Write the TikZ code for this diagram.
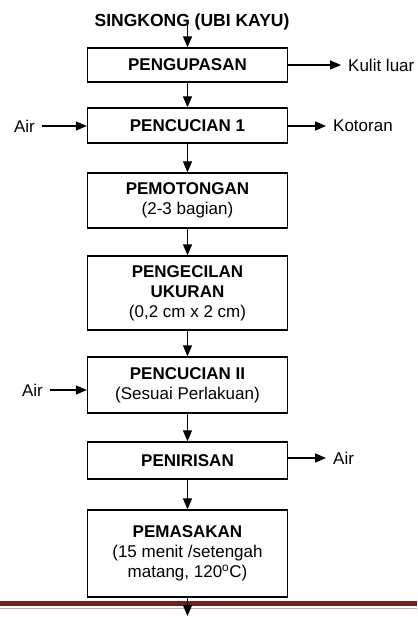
\documentclass[tikz,border=0pt]{standalone}
\usepackage{fontspec}
\setmainfont{Liberation Sans}
\usetikzlibrary{arrows.meta}
\definecolor{bandred}{RGB}{110,35,35}
\definecolor{bandpink}{RGB}{205,170,170}
\begin{document}
\begin{tikzpicture}[x=1pt, y=-1pt,
        every node/.style={font=\fontsize{17}{20}\selectfont},
        box/.style={draw, line width=1.3pt, minimum width=200pt, align=center, inner sep=2pt},
        side/.style={inner xsep=7pt, inner ysep=2pt},
        flow/.style={line width=1.3pt, -{Triangle[length=11pt,width=9pt]}}]
        \useasboundingbox (0,0) rectangle (417,617);

        % --- Process boxes ---
        \node[anchor=base, font=\fontsize{17.5}{20}\selectfont\bfseries] (title) at (192,27) {SINGKONG (UBI KAYU)};
        \node[box, minimum height=34pt] (peel) at (187.5,65) {\textbf{PENGUPASAN}};
        \node[box, minimum height=35pt] (wash1) at (187.5,125.5) {\textbf{PENCUCIAN 1}};
        \node[box, minimum height=55pt] (cut) at (187.5,200.5) {\textbf{PEMOTONGAN}\\(2-3 bagian)};
        \node[box, minimum height=74pt] (size) at (187.5,293) {\textbf{PENGECILAN}\\\textbf{UKURAN}\\(0,2 cm x 2 cm)};
        \node[box, minimum height=56pt] (wash2) at (187.5,385) {\textbf{PENCUCIAN II}\\(Sesuai Perlakuan)};
        \node[box, minimum height=37pt] (drain) at (187.5,460.5) {\textbf{PENIRISAN}};
        \node[box, minimum height=87pt] (cook) at (187.5,553.5) {\textbf{PEMASAKAN}\\(15 menit /setengah\\matang, 120\textsuperscript{o}C)};
        \coordinate (out) at (187.5,616);
        % ---

        % --- Inputs and outputs ---
        \node[side, anchor=west] (kulit) at (341,65) {Kulit luar};
        \node[side, anchor=west] (kotoran) at (326,126) {Kotoran};
        \node[side, anchor=east] (air1) at (42,126) {Air};
        \node[side, anchor=east] (air2) at (50,390) {Air};
        \node[side, anchor=west] (air3) at (326,458) {Air};
        % ---

        % --- Separator line ---
        \draw[line width=5pt, bandred] (0,603.5) -- (417,603.5);
        \draw[line width=1.5pt, bandpink] (0,608.5) -- (417,608.5);
        % ---

        % --- Flow arrows ---
        \draw[flow] ([yshift=3pt]title.base -| peel.north) -- (peel.north);
        \draw[flow] (peel.south) -- (wash1.north);
        \draw[flow] (wash1.south) -- (cut.north);
        \draw[flow] (cut.south) -- (size.north);
        \draw[flow] (size.south) -- (wash2.north);
        \draw[flow] (wash2.south) -- (drain.north);
        \draw[flow] (drain.south) -- (cook.north);
        \draw[flow] (cook.south) -- (out);
        \draw[flow] (peel.east |- kulit.west) -- (kulit.west);
        \draw[flow] (wash1.east |- kotoran.west) -- (kotoran.west);
        \draw[flow] (air1.east) -- (wash1.west |- air1.east);
        \draw[flow] (air2.east) -- (wash2.west |- air2.east);
        \draw[flow] (drain.east |- air3.west) -- (air3.west);
        % ---
\end{tikzpicture}
\end{document}
